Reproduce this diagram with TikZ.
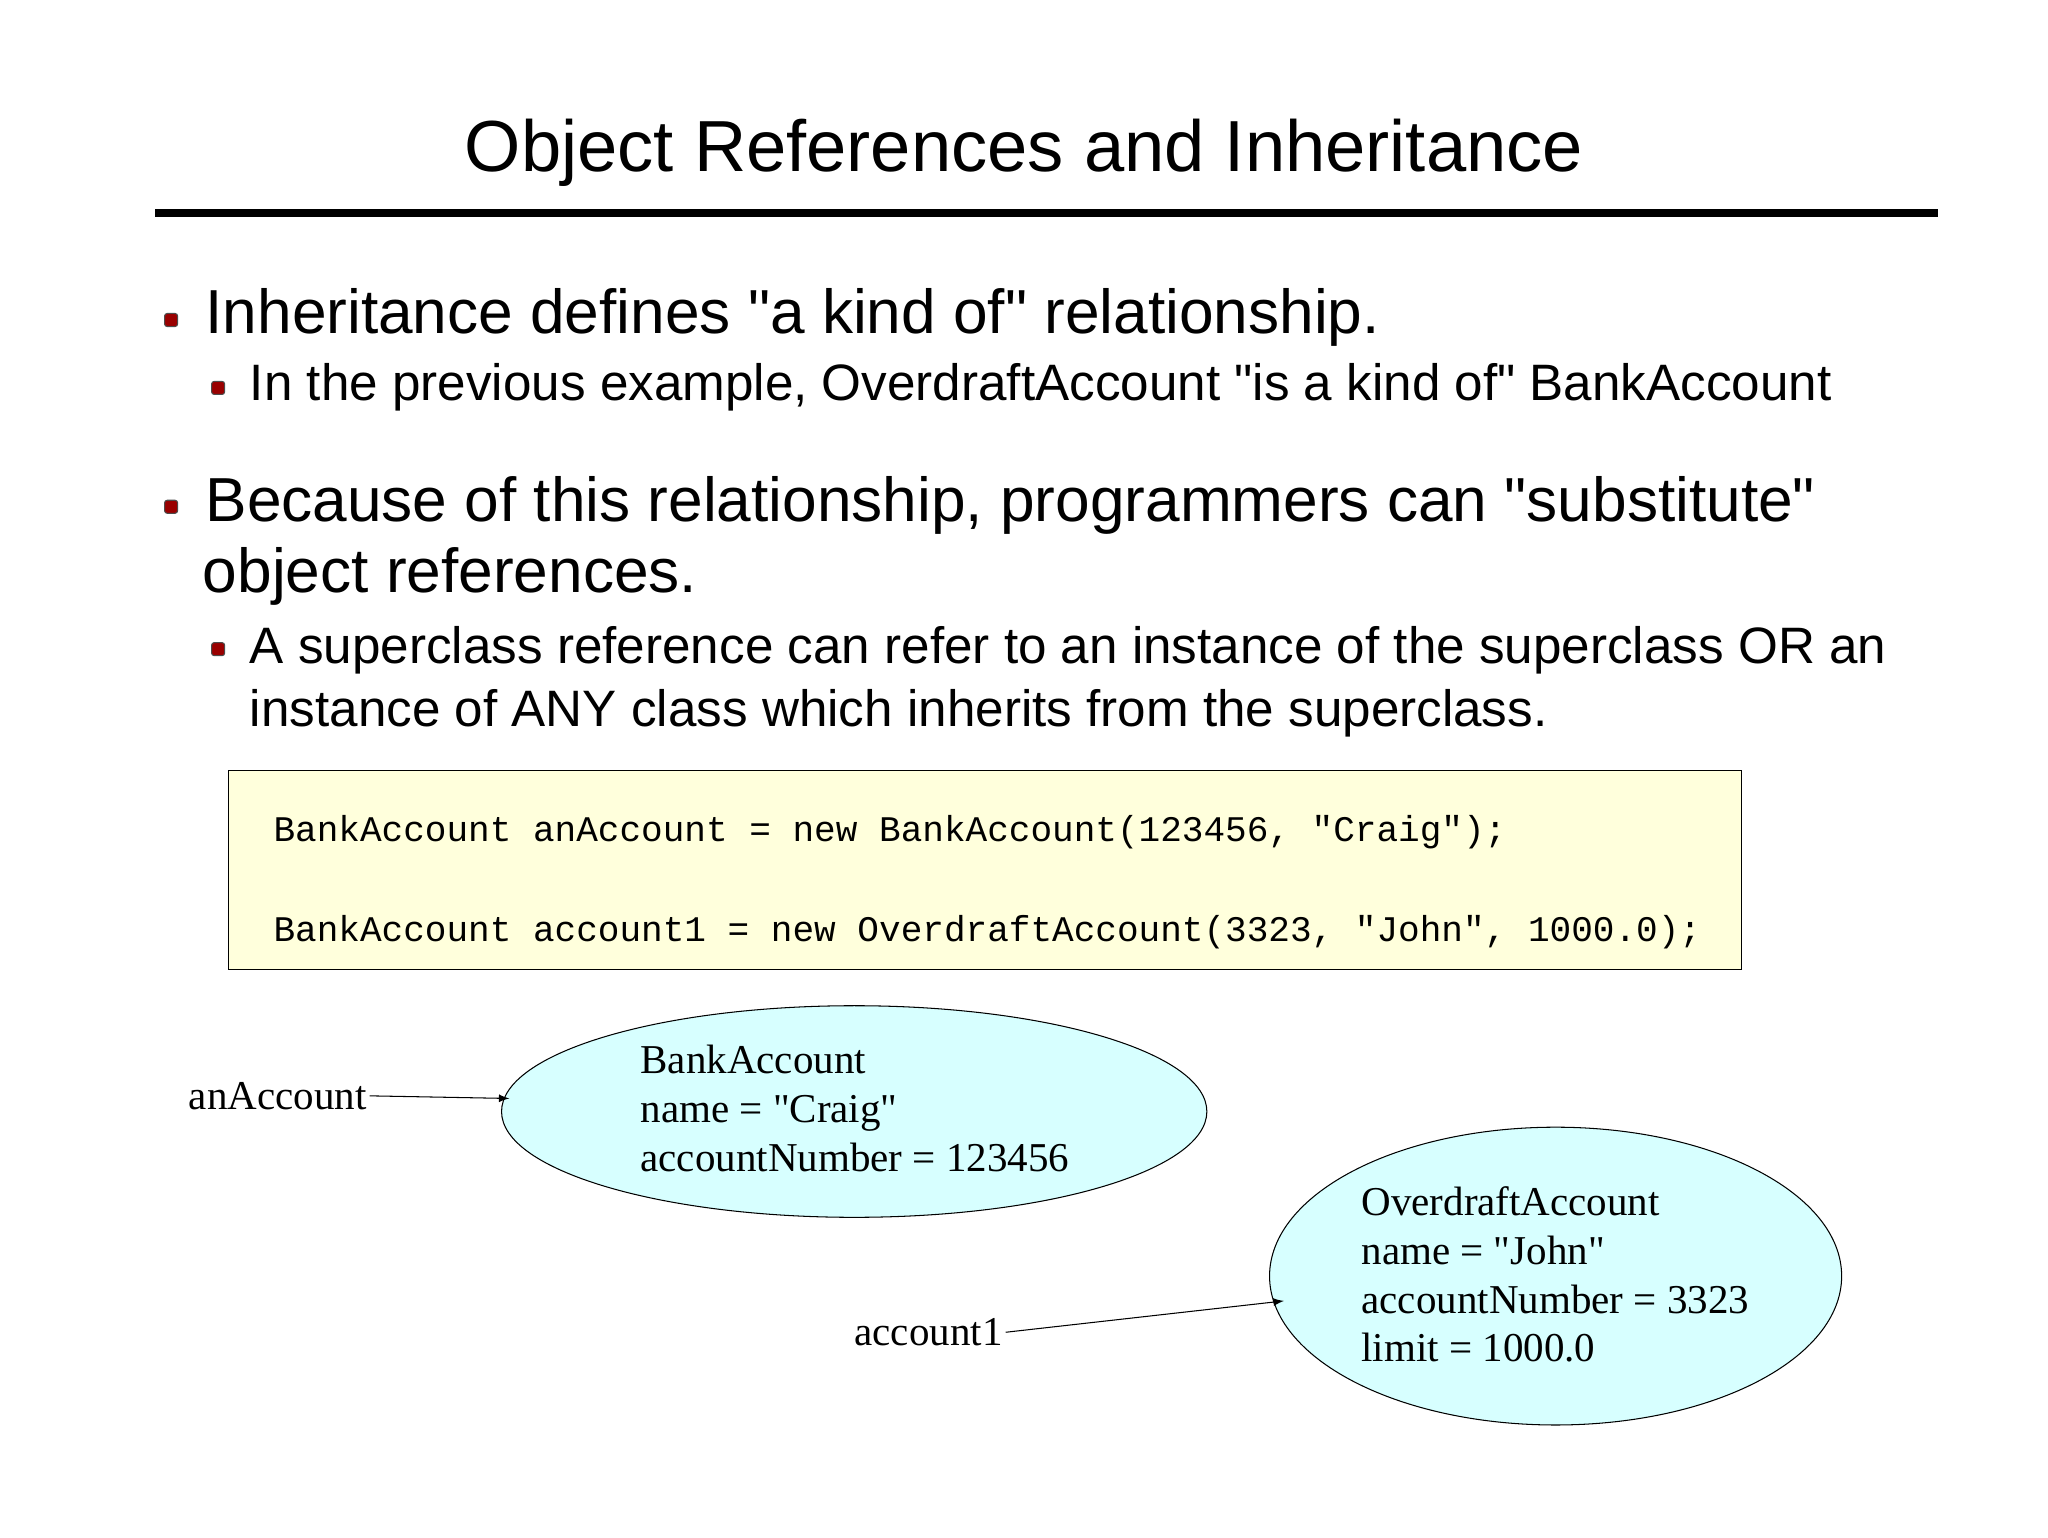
\documentclass[tikz,border=0pt]{standalone}
\usepackage{fontspec}
\setmainfont{Liberation Sans}[Ligatures=TeXOff]
\newfontfamily\tms{Liberation Serif}[Ligatures=TeXOff]
\newfontfamily\crr{Liberation Mono}[Ligatures=TeXOff]
\begin{document}
\begin{tikzpicture}[x=0.5pt,y=-0.5pt,
  bul/.style={draw=black!70,fill=red!60!black,rounded corners=1pt,minimum size=5pt,inner sep=0pt},
  txt/.style={anchor=base west,inner sep=0pt},
  big/.style={font=\fontsize{23.8}{28}\selectfont},
  small/.style={font=\fontsize{19.6}{23}\selectfont},
  ser/.style={font=\tms\fontsize{15.7}{18.7}\selectfont},
  arr/.style={-latex,thin}]
\useasboundingbox (0,0) rectangle (1568,1177);
\node[inner sep=0pt,anchor=base,font=\fontsize{27.7}{33}\selectfont] (title) at (784,131) {Object References and Inheritance};
\draw[line width=3pt] (119,163) -- (1484,163);
\node[bul] (b1) at (131,245) {};
\node[txt,big] (t1) at (157,255) {Inheritance defines "a kind of" relationship.};
\node[bul] (b2) at (167,297) {};
\node[txt,small] (t2) at (191,307) {In the previous example, OverdraftAccount "is a kind of" BankAccount};
\node[bul] (b3) at (131,388) {};
\node[txt,big] (t3) at (157,399) {Because of this relationship, programmers can "substitute"};
\node[txt,big] (t3b) at (155,454) {object references.};
\node[bul] (b4) at (167,497) {};
\node[txt,small] (t4) at (191,508) {A superclass reference can refer to an instance of the superclass OR an};
\node[txt,small] (t4b) at (191,556) {instance of ANY class which inherits from the superclass.};
\draw[fill={rgb,255:red,255;green,255;blue,220}] (175,590) rectangle (1333,742);
\node[txt,font=\crr\fontsize{13.8}{16}\selectfont] (c1) at (209,644) {BankAccount anAccount = new BankAccount(123456, "Craig");};
\node[txt,font=\crr\fontsize{13.8}{16}\selectfont] (c2) at (209,721) {BankAccount account1 = new OverdraftAccount(3323, "John", 1000.0);};
\draw[fill={rgb,255:red,215;green,255;blue,255}] (654,851) ellipse [x radius=270, y radius=81];
\draw[fill={rgb,255:red,215;green,255;blue,255}] (1191,977) ellipse [x radius=219, y radius=114];
\coordinate (e1) at (390,841);
\coordinate (e2) at (983,996);
\node[txt,ser,align=left,anchor=north west] (o1) at (490,800) {BankAccount\\name = "Craig"\\accountNumber = 123456};
\node[txt,ser,align=left,anchor=north west] (o2) at (1042,908) {OverdraftAccount\\name = "John"\\accountNumber = 3323\\limit = 1000.0};
\node[inner sep=1pt,anchor=east,ser] (r1) at (283,839) {anAccount};
\node[inner sep=1pt,anchor=east,ser] (r2) at (770,1020) {account1};
\draw[arr] (r1.east) -- (e1);
\draw[arr] (r2.east) -- (e2);
\end{tikzpicture}
\end{document}
